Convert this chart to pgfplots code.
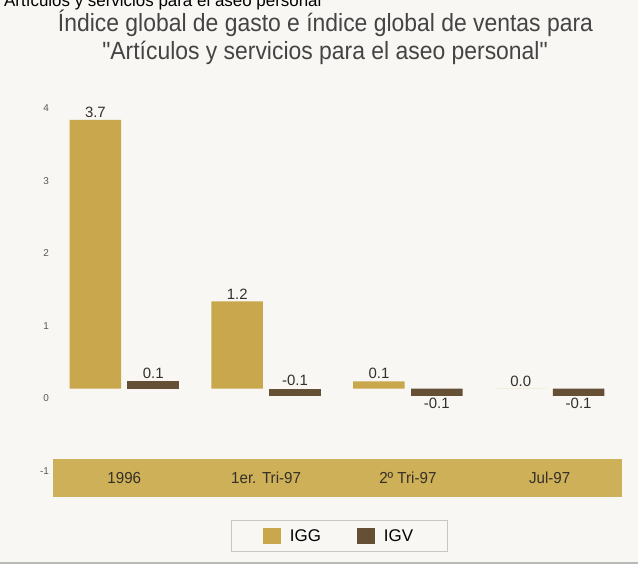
\documentclass[border=0pt]{standalone}
\usepackage{pgfplots}
\usepackage{pgfplotstable}
\pgfplotsset{compat=1.18}
\usepackage{fontspec}
\setmainfont{Liberation Sans}
\newfontfamily\condfont[FakeStretch=0.92]{Liberation Sans}
\newfontfamily\catfont[FakeStretch=0.95]{Liberation Sans}
\definecolor{igg}{HTML}{C9A74C}
\definecolor{igv}{HTML}{665035}
\definecolor{band}{HTML}{CDB057}
\definecolor{titlegray}{HTML}{444444}
\definecolor{lblcol}{HTML}{35302A}
\definecolor{paper}{HTML}{F8F7F4}

\pgfplotstableread{
x y lbl
0 3.7 3.7
1 1.2 1.2
2 0.1 0.1
3 0.0 0.0
}\iggtable
\pgfplotstableread{
x y lbl
0 0.1 0.1
}\igvtablea
\pgfplotstableread{
x y lbl
1 -0.1 -0.1
}\igvtableb
\pgfplotstableread{
x y lbl
2 -0.1 -0.1
3 -0.1 -0.1
}\igvtablec

\begin{document}
\begin{tikzpicture}
\useasboundingbox (0,0) rectangle (638bp,564bp);
\clip (0,0) rectangle (638bp,564bp);
\fill[paper] (0,0) rectangle (638bp,564bp);
\node[anchor=base west, inner sep=0pt, font=\fontsize{17}{20}\selectfont, text=black] at (4bp,557bp) {Artículos y servicios para el aseo personal};
\node[anchor=base, inner sep=0pt, font=\condfont\fontsize{25}{28}\selectfont, text=titlegray] at (325.5bp,532bp) {Índice global de gasto e índice global de ventas para};
\node[anchor=base, inner sep=0pt, font=\condfont\fontsize{25}{28}\selectfont, text=titlegray] at (325bp,504bp) {"Artículos y servicios para el aseo personal"};
\draw[gray!55, line width=1.5bp] (0,1bp) -- (638bp,1bp);
\begin{axis}[
  scale only axis, width=568.6bp, height=413.4bp,
  at={(53.4bp,67bp)}, anchor=south west,
  xmin=-0.5, xmax=3.51, ymin=-1.494, ymax=4.2,
  axis line style={draw=none}, major tick length=0pt,
  axis on top, clip=false,
  xtick={0,1,2,3},
  xticklabels={1996, 1er. Tri-97, 2º Tri-97, Jul-97},
  xticklabel style={anchor=center, yshift=19bp, font=\catfont\fontsize{16}{18}\selectfont, text=lblcol},
  ytick={-1,0,1,2,3,4},
  yticklabels={-1,0,1,2,3,4},
  yticklabel style={font=\fontsize{10}{11}\selectfont, text=gray!70!black, yshift=-10bp, xshift=-1bp},
  ybar, bar width=51.5bp,
  legend columns=2,
  legend style={at={(0.5023,-0.0943)}, anchor=center, draw=gray!45, fill=paper,
    font=\fontsize{17}{20}\selectfont, inner xsep=32bp, inner ysep=7bp,
    /tikz/every odd column/.append style={column sep=7bp},
    /tikz/every even column/.append style={column sep=34bp}},
  legend image code/.code={\fill[#1] (0bp,-8bp) rectangle (18bp,8bp);},
  nodes near coords style={font=\fontsize{15}{18}\selectfont, text=lblcol, inner sep=2bp},
]
\fill[band] (axis cs:-0.5,-0.971) rectangle (axis cs:3.51,-1.494);
\addplot[fill=igg, draw=none, bar shift=-28.9bp,
  point meta=explicit symbolic, nodes near coords,
  every node near coord/.append style={anchor=south}]
  table[x=x,y=y,meta=lbl]{\iggtable};
\addlegendentry{IGG}
\addplot[fill=igv, draw=none, bar shift=28.9bp,
  point meta=explicit symbolic, nodes near coords,
  every node near coord/.append style={anchor=south}]
  table[x=x,y=y,meta=lbl]{\igvtablea};
\addlegendentry{IGV}
\addplot[forget plot, fill=igv, draw=none, bar shift=28.9bp,
  point meta=explicit symbolic, nodes near coords,
  every node near coord/.append style={anchor=south, yshift=8bp}]
  table[x=x,y=y,meta=lbl]{\igvtableb};
\addplot[forget plot, fill=igv, draw=none, bar shift=28.9bp,
  point meta=explicit symbolic, nodes near coords,
  every node near coord/.append style={anchor=north}]
  table[x=x,y=y,meta=lbl]{\igvtablec};
\end{axis}
\end{tikzpicture}
\end{document}
